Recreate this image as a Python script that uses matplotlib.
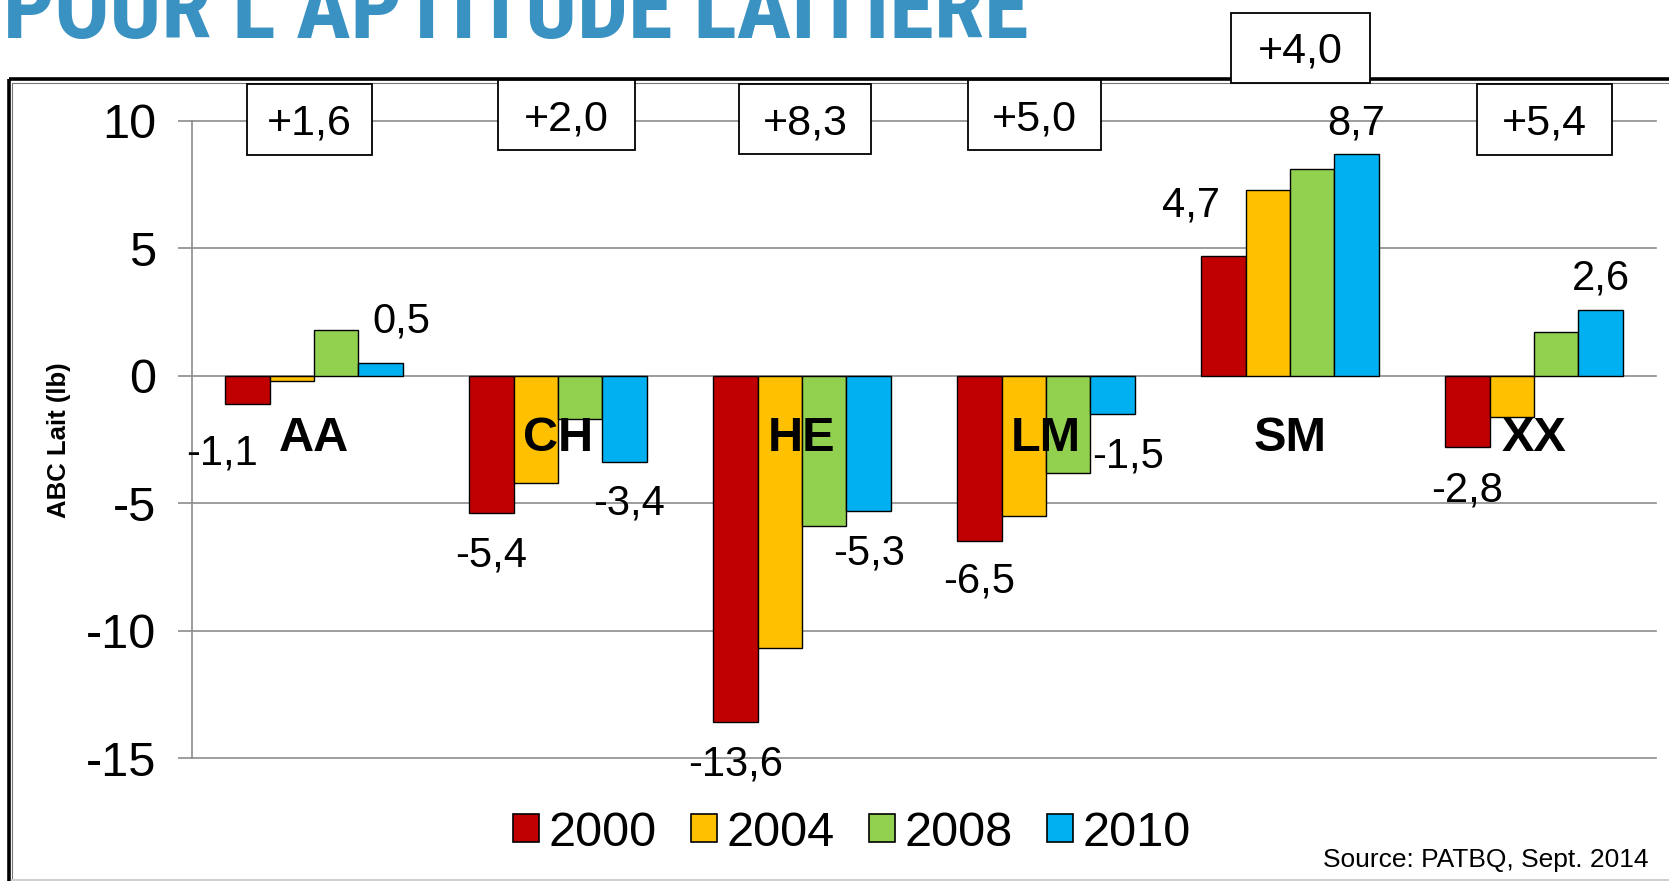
import matplotlib
matplotlib.use("Agg")
import matplotlib.pyplot as plt
import numpy as np
from matplotlib import font_manager as fm
from matplotlib.lines import Line2D
from matplotlib.patches import Rectangle, Patch

# ---------------- data ----------------
categories = ["AA", "CH", "HE", "LM", "SM", "XX"]
years = ["2000", "2004", "2008", "2010"]
v2000 = [-1.1, -5.4, -13.6, -6.5, 4.7, -2.8]
v2004 = [-0.2, -4.2, -10.7, -5.5, 7.3, -1.6]
v2008 = [1.8, -1.7, -5.9, -3.8, 8.1, 1.7]
v2010 = [0.5, -3.4, -5.3, -1.5, 8.7, 2.6]
gains = ["+1,6", "+2,0", "+8,3", "+5,0", "+4,0", "+5,4"]
yticks = [-15, -10, -5, 0, 5, 10]
title = "POUR L\u2019APTITUDE LAITIERE"
ylabel = "ABC Lait (lb)"
source = "Source: PATBQ, Sept. 2014"

# ---------------- style ----------------
colors = ["#C00000", "#FFC000", "#92D050", "#00B0F0"]
W, H = 1669, 881
plt.rcParams["font.family"] = ["Liberation Sans", "DejaVu Sans"]
plt.rcParams["axes.unicode_minus"] = False


def has_font(name):
    try:
        fm.findfont(fm.FontProperties(family=name, weight="bold"), fallback_to_default=False)
        return True
    except Exception:
        return False


title_font = "Liberation Sans"
for cand in ["Liberation Sans Narrow", "Roboto Condensed", "DejaVu Sans Condensed",
             "Open Sans Condensed", "Liberation Sans"]:
    if has_font(cand):
        title_font = cand
        break


def fx(px):
    return px / W


def fy(py):
    return 1 - py / H


fig = plt.figure(figsize=(W / 100, H / 100), dpi=100)
fig.patch.set_facecolor("white")

# axes in pixel layout
ax_l, ax_r, ax_t, ax_b = 192, 1656, 121, 758
ax = fig.add_axes([fx(ax_l), fy(ax_b), (ax_r - ax_l) / W, (ax_b - ax_t) / H])
ax.set_xlim(-0.5, len(categories) - 0.5)
ax.set_ylim(-15, 10)

grid_col = "#8C8C8C"
ax.set_yticks(yticks)
ax.set_yticklabels([str(t) for t in yticks], fontsize=35)
ax.yaxis.grid(True, color=grid_col, lw=1.2)
ax.set_axisbelow(True)
for g in ax.get_ygridlines():
    g.set_clip_on(False)
ax.tick_params(axis="y", length=10, width=1.2, color=grid_col, pad=16)
ax.set_xticks([])
for s in ["top", "right", "bottom"]:
    ax.spines[s].set_visible(False)
ax.spines["left"].set_color(grid_col)
ax.spines["left"].set_linewidth(1.2)

series = [v2000, v2004, v2008, v2010]
x = np.arange(len(categories))
bw = 0.182
for i, (vals, c, yr) in enumerate(zip(series, colors, years)):
    ax.bar(x + (i - 1.5) * bw, vals, width=bw, color=c, edgecolor="black",
           linewidth=1.0, zorder=3, label=yr)

# data labels for 2000 and 2010 (pixel offsets of digit center from bar end)
lab_fs = 30
em_px = lab_fs * 100 / 72
half_digit = 0.358 * em_px
label_offsets = {
    (0, 0): (-25, -46), (0, 3): (21, 45),
    (1, 0): (0, -38), (1, 3): (4, -37),
    (2, 0): (0, -38), (2, 3): (0, -39),
    (3, 0): (0, -36), (3, 3): (15, -39),
    (4, 0): (-32, 54), (4, 3): (0, 35),
    (5, 0): (0, -39), (5, 3): (0, 35),
}
for (ci, si), (dx, dy) in label_offsets.items():
    v = series[si][ci]
    xpos = x[ci] + (si - 1.5) * bw
    txt = f"{v:.1f}".replace(".", ",")
    ax.annotate(txt, (xpos, v), xytext=(dx, dy - half_digit), textcoords="offset pixels",
                ha="center", va="baseline", fontsize=lab_fs, zorder=6,
                annotation_clip=False)

# category labels
for xi, cat in zip(x, categories):
    ax.text(xi, -2.96, cat, ha="center", va="baseline", fontsize=35,
            fontweight="bold", zorder=6)

# gain boxes (pixel boxes: left, top, right, bottom)
boxes_px = [(247, 84, 372, 155), (498, 80, 635, 150), (739, 84, 871, 154),
            (968, 80, 1101, 150), (1231, 13, 1370, 83), (1477, 84, 1612, 155)]
for (l, t, r, b), g in zip(boxes_px, gains):
    fig.add_artist(Rectangle((fx(l), fy(b)), (r - l) / W, (b - t) / H,
                             transform=fig.transFigure, facecolor="white",
                             edgecolor="black", lw=1.3, zorder=5))
    fig.text(fx((l + r) / 2), fy((t + b) / 2 + 15), g, ha="center", va="baseline",
             fontsize=31, zorder=6)

# frame lines
fig.add_artist(Line2D([fx(8.5), fx(W)], [fy(79), fy(79)], transform=fig.transFigure,
                      color="black", lw=2.6, zorder=2, solid_capstyle="butt"))
fig.add_artist(Line2D([fx(8.5), fx(8.5)], [fy(79), fy(H)], transform=fig.transFigure,
                      color="black", lw=2.6, zorder=2, solid_capstyle="butt"))
fig.add_artist(Line2D([fx(12), fx(W)], [fy(83), fy(83)], transform=fig.transFigure,
                      color="#777777", lw=0.8, zorder=2))
fig.add_artist(Line2D([fx(12), fx(12)], [fy(83), fy(H)], transform=fig.transFigure,
                      color="#777777", lw=0.8, zorder=2))
fig.add_artist(Line2D([fx(12), fx(W)], [fy(879.5), fy(879.5)], transform=fig.transFigure,
                      color="#D0D0D0", lw=1.5, zorder=2))

# y label
fig.text(fx(59), fy(440), ylabel, rotation=90, ha="center", va="center",
         fontsize=18.5, fontweight="bold")

# source
fig.text(fx(1648), fy(867), source, ha="right", va="baseline", fontsize=19)

# legend
handles = [Patch(facecolor=c, edgecolor="black", lw=1.2) for c in colors]
fig.legend(handles, years, loc="center", bbox_to_anchor=(fx(852), fy(833)), ncol=4,
           frameon=False, fontsize=35, handlelength=0.53, handleheight=0.51,
           handletextpad=0.2, columnspacing=0.71, borderpad=0, borderaxespad=0)

# title: fit width
tt = fig.text(fx(3), fy(38), title, ha="left", va="baseline", fontsize=60,
              fontweight="bold", color="#3A92C2", family=title_font)
fig.canvas.draw()
ext = tt.get_window_extent()
tt.set_fontsize(60 * 1027 / ext.width)

fig.savefig("out.png", dpi=100)
